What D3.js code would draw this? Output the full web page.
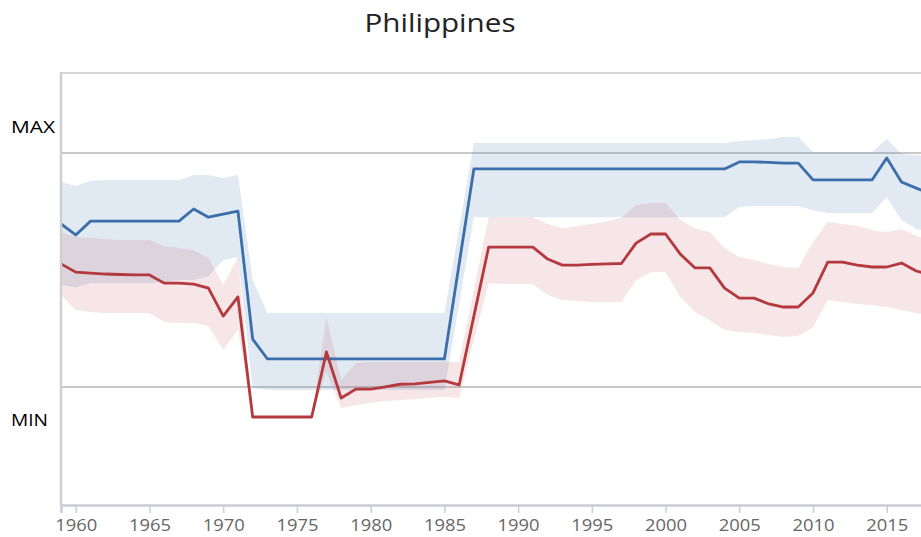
<!DOCTYPE html>
<html>
<head>
<meta charset="utf-8">
<script src="https://cdn.jsdelivr.net/npm/d3@7"></script>
<style>
  html, body { margin: 0; padding: 0; background: #fff; }
  svg { display: block; font-family: "Open Sans", sans-serif; }
</style>
</head>
<body>
<svg id="chart" width="921" height="537"></svg>
<script>
// ---- data (index scale: MIN = 0, MAX = 100) ----
const title = "Philippines";
const years = [1959,1960,1961,1962,1963,1964,1965,1966,1967,1968,1969,1970,1971,1972,1973,1974,1975,1976,1977,1978,1979,1980,1981,1982,1983,1984,1985,1986,1987,1988,1989,1990,1991,1992,1993,1994,1995,1996,1997,1998,1999,2000,2001,2002,2003,2004,2005,2006,2007,2008,2009,2010,2011,2012,2013,2014,2015,2016,2017,2018];
const blueLine = [69.7,65.0,70.9,70.9,70.9,70.9,70.9,70.9,70.9,76.1,72.6,73.9,75.2,20.5,12.0,12.0,12.0,12.0,12.0,12.0,12.0,12.0,12.0,12.0,12.0,12.0,12.0,52.6,93.2,93.2,93.2,93.2,93.2,93.2,93.2,93.2,93.2,93.2,93.2,93.2,93.2,93.2,93.2,93.2,93.2,93.2,96.2,96.2,96.0,95.7,95.7,88.5,88.5,88.5,88.5,88.5,97.9,87.6,85.0,82.5];
const blueUpper = [87.6,85.9,88.0,88.5,88.5,88.5,88.5,88.5,88.5,90.6,90.6,89.3,90.6,45.7,31.6,31.6,31.6,31.6,31.6,31.6,31.6,31.6,31.6,31.6,31.6,31.6,31.6,67.9,104.3,104.3,104.3,104.3,104.3,104.3,104.3,104.3,104.3,104.3,104.3,104.3,104.3,104.3,104.3,104.3,104.3,104.3,105.1,105.6,106.0,106.8,106.8,100.4,100.4,100.4,100.4,100.4,106.0,99.6,99.1,98.7];
const blueLower = [43.6,42.7,44.4,44.4,44.4,44.4,44.4,44.9,45.7,45.7,47.4,54.3,55.6,-0.4,-1.3,-1.3,-1.3,-1.3,-1.3,-1.3,-1.3,-1.3,-1.3,-1.3,-1.3,-1.3,-1.3,35.5,72.6,72.6,72.6,72.6,72.6,72.6,72.6,72.6,72.6,72.6,72.6,72.6,72.6,72.6,72.6,72.6,72.6,72.6,76.9,77.4,77.4,77.4,77.4,75.6,74.4,74.4,74.4,74.4,81.2,71.4,67.5,66.2];
const redLine = [52.6,49.1,48.7,48.3,48.1,47.9,47.9,44.4,44.4,44.0,42.3,30.3,38.5,-12.8,-12.8,-12.8,-12.8,-12.8,15.0,-4.7,-0.9,-0.9,0.1,1.2,1.4,2.0,2.6,0.9,30.3,59.8,59.8,59.8,59.8,54.7,52.1,52.1,52.4,52.6,52.8,61.5,65.4,65.4,56.8,50.9,50.9,42.3,38.0,38.0,35.5,34.2,34.2,40.2,53.4,53.4,52.1,51.3,51.3,53.0,49.6,47.9];
const redUpper = [66.2,64.1,63.7,63.2,62.8,62.8,62.8,60.3,59.4,58.5,55.1,43.6,55.6,-12.8,-12.8,-12.8,-12.8,-12.8,29.9,3.0,10.3,10.7,10.7,10.7,10.7,10.7,10.7,10.7,41.5,72.6,72.6,72.6,72.6,69.7,67.9,68.8,69.7,70.9,72.2,77.8,78.6,78.6,71.4,67.9,66.2,59.4,55.6,54.3,52.6,51.3,50.9,62.0,70.5,69.7,68.8,67.1,66.2,67.5,64.5,62.8];
const redLower = [39.3,32.9,32.1,31.6,31.6,31.6,31.6,27.8,27.4,27.4,26.1,15.8,24.4,-12.8,-12.8,-12.8,-12.8,-12.8,6.4,-9.0,-7.7,-6.8,-6.0,-5.6,-5.1,-4.7,-4.3,-4.7,20.1,44.4,44.0,44.0,44.0,39.3,37.2,36.8,36.3,36.3,36.3,45.7,49.1,49.1,38.5,32.1,28.6,24.4,23.5,23.1,22.2,21.4,21.8,25.6,37.2,36.3,35.5,35.0,34.2,32.9,31.6,30.8];
const xTicks = [1960,1965,1970,1975,1980,1985,1990,1995,2000,2005,2010,2015];
const refLines = [{label: "MAX", value: 100}, {label: "MIN", value: 0}];

// ---- layout ----
const svg = d3.select("#chart");
const plot = {left: 61, top: 73, bottom: 505, right: 931};
const x = d3.scaleLinear().domain([1959, 2018]).range([plot.left, plot.right]);
const y = d3.scaleLinear().domain([-50.4, 134.2]).range([plot.bottom, plot.top]);

// title
svg.append("text")
  .attr("x", 440).attr("y", 32)
  .attr("text-anchor", "middle")
  .attr("font-size", 25).attr("fill", "#222")
  .attr("textLength", 151).attr("lengthAdjust", "spacingAndGlyphs")
  .text(title);

// frame
svg.append("line").attr("x1", plot.left).attr("x2", 921).attr("y1", plot.top).attr("y2", plot.top)
  .attr("stroke", "#d6d6d6").attr("stroke-width", 2);

// reference grid lines
svg.selectAll("line.ref").data(refLines).join("line")
  .attr("class", "ref")
  .attr("x1", plot.left).attr("x2", 921)
  .attr("y1", d => y(d.value)).attr("y2", d => y(d.value))
  .attr("stroke", "#c9c9c9").attr("stroke-width", 2);

// labels
svg.append("text").attr("x", 11).attr("y", y(100) - 20)
  .attr("font-size", 16).attr("fill", "#000")
  .attr("textLength", 44).attr("lengthAdjust", "spacingAndGlyphs").text(refLines[0].label);
svg.append("text").attr("x", 11).attr("y", y(0) + 39)
  .attr("font-size", 16).attr("fill", "#000")
  .attr("textLength", 37).attr("lengthAdjust", "spacingAndGlyphs").text(refLines[1].label);

// data rows
const rows = years.map((yr, i) => ({yr, bl: blueLine[i], bu: blueUpper[i], bd: blueLower[i], rl: redLine[i], ru: redUpper[i], rd: redLower[i]}));

svg.append("clipPath").attr("id", "clip").append("rect")
  .attr("x", plot.left).attr("y", plot.top).attr("width", plot.right - plot.left).attr("height", plot.bottom - plot.top);
const g = svg.append("g").attr("clip-path", "url(#clip)");

g.append("path").datum(rows)
  .attr("d", d3.area().x(d => x(d.yr)).y0(d => y(d.bd)).y1(d => y(d.bu)))
  .attr("fill", "rgb(80,125,185)").attr("fill-opacity", 0.17);
g.append("path").datum(rows)
  .attr("d", d3.area().x(d => x(d.yr)).y0(d => y(d.rd)).y1(d => y(d.ru)))
  .attr("fill", "rgb(195,90,95)").attr("fill-opacity", 0.15);

g.append("path").datum(rows)
  .attr("d", d3.line().x(d => x(d.yr)).y(d => y(d.bl)))
  .attr("fill", "none").attr("stroke", "#3c6ea9").attr("stroke-width", 2.8).attr("stroke-linejoin", "round");
g.append("path").datum(rows)
  .attr("d", d3.line().x(d => x(d.yr)).y(d => y(d.rl)))
  .attr("fill", "none").attr("stroke", "#b3393e").attr("stroke-width", 2.8).attr("stroke-linejoin", "round");

// left axis line
svg.append("line").attr("x1", plot.left).attr("x2", plot.left).attr("y1", plot.top - 1).attr("y2", plot.bottom)
  .attr("stroke", "#cfcfcf").attr("stroke-width", 2.5);

// x axis
const xAxis = svg.append("g").attr("transform", `translate(0,${plot.bottom})`)
  .call(d3.axisBottom(x).tickValues(xTicks).tickFormat(d3.format("d")).tickSize(8).tickPadding(7));
xAxis.select(".domain").attr("stroke", "#ccccd8").attr("stroke-width", 2.5);
xAxis.selectAll(".tick line").attr("stroke", "#ccccd8").attr("stroke-width", 1.5);
xAxis.selectAll(".tick text")
  .attr("font-family", "Open Sans, sans-serif").attr("font-size", 16).attr("fill", "#666")
  .attr("textLength", 42).attr("lengthAdjust", "spacingAndGlyphs");
</script>
</body>
</html>
